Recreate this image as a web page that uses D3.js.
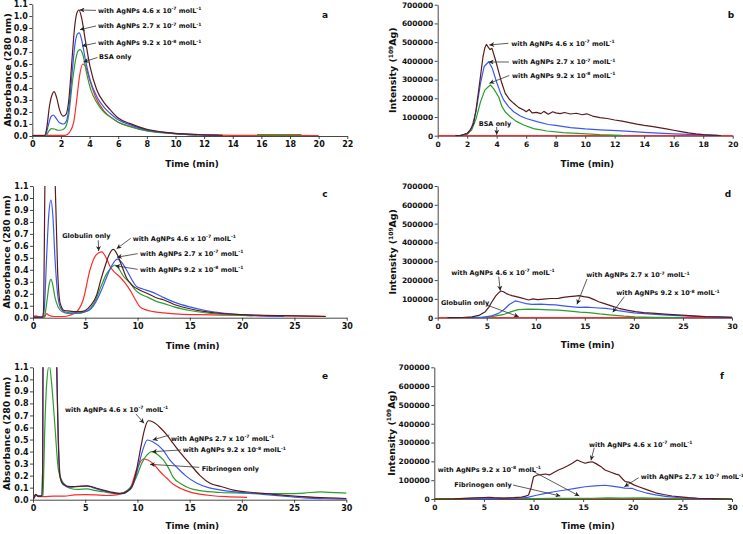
<!DOCTYPE html>
<html><head><meta charset="utf-8">
<script src="https://cdn.jsdelivr.net/npm/d3@7"></script>
<style>
body{margin:0;background:#fff}
svg{display:block}
text{font-family:"DejaVu Sans","Liberation Sans",sans-serif;font-weight:bold;fill:#111}
</style>
</head><body>
<svg id="chart" width="743" height="534"></svg>
<script>
// ---------- tick arrays ----------
const absTicks = [0,0.1,0.2,0.3,0.4,0.5,0.6,0.7,0.8,0.9,1.0,1.1];
const intTicks = [0,100000,200000,300000,400000,500000,600000,700000];
const time22Ticks = [0,2,4,6,8,10,12,14,16,18,20,22];
const time20Ticks = [0,2,4,6,8,10,12,14,16,18,20];
const time30Ticks = [0,5,10,15,20,25,30];

// ---------- series: [time (min), value] ----------
// a: BSA absorbance
const aBrown = [[0,0.004],[0.85,0.004],[1.0,0.06],[1.2,0.25],[1.4,0.35],[1.52,0.37],[1.7,0.32],[1.9,0.22],[2.16,0.165],[2.35,0.18],[2.55,0.3],[2.75,0.6],[2.95,0.9],[3.1,1.02],[3.26,1.05],[3.45,0.98],[3.7,0.8],[4.03,0.58],[4.5,0.385],[5.0,0.28],[5.43,0.22],[6.0,0.15],[6.8,0.105],[8,0.055],[9,0.035],[10,0.022],[11,0.015],[12,0.01],[13.3,0.006]];
const aBlue = [[0,0.003],[0.9,0.003],[1.1,0.08],[1.3,0.16],[1.47,0.175],[1.65,0.15],[1.9,0.11],[2.16,0.1],[2.4,0.13],[2.6,0.28],[2.8,0.55],[3.0,0.78],[3.15,0.85],[3.28,0.86],[3.45,0.8],[3.7,0.64],[4.03,0.47],[4.5,0.33],[5.0,0.24],[5.43,0.19],[6,0.135],[6.8,0.095],[8,0.05],[9,0.032],[10,0.02],[11,0.012],[12,0.008],[13,0.006]];
const aGreen = [[0,0.002],[0.95,0.002],[1.15,0.04],[1.35,0.062],[1.55,0.058],[1.8,0.048],[2.05,0.05],[2.3,0.07],[2.55,0.18],[2.8,0.45],[3.0,0.62],[3.2,0.71],[3.35,0.72],[3.55,0.67],[3.8,0.52],[4.1,0.38],[4.5,0.28],[5.0,0.2],[5.43,0.16],[6,0.115],[6.8,0.08],[8,0.042],[9,0.028],[10,0.018],[11,0.01],[11.5,0.008],[11.6,null],[15.7,0.012],[18.8,0.012]];
const aRed = [[0,0.005],[2.3,0.005],[2.6,0.03],[2.9,0.12],[3.1,0.3],[3.3,0.5],[3.52,0.6],[3.75,0.57],[4.0,0.47],[4.4,0.33],[5.0,0.21],[5.5,0.155],[6,0.115],[6.8,0.08],[8,0.045],[9,0.03],[10,0.02],[12,0.01],[14,0.006],[17,0.005],[20,0.004]];
// b: BSA 109Ag intensity
const bBrown = [[1.2,0],[1.6,2000],[2.0,13000],[2.2,30000],[2.44,66000],[2.6,140000],[2.78,244000],[3.07,422000],[3.2,470000],[3.3,488000],[3.45,470000],[3.55,460000],[3.68,467000],[3.9,410000],[4.13,342000],[4.35,280000],[4.58,226000],[4.85,195000],[5.15,173000],[5.5,150000],[5.83,137000],[6.0,128000],[6.2,140000],[6.4,122000],[6.7,125000],[7.0,118000],[7.2,130000],[7.5,115000],[7.8,128000],[8.0,122000],[8.3,118000],[8.6,124000],[9.0,116000],[9.4,120000],[9.8,112000],[10.1,117000],[10.5,105000],[11,97000],[11.5,92000],[12,84000],[12.5,78000],[13,70000],[13.5,62000],[14,55000],[14.5,50000],[15,43000],[15.5,36000],[16,29000],[16.5,22000],[17,15000],[17.5,10000],[18,6000],[18.5,3500],[19.2,1000]];
const bBlue = [[1.5,0],[2.0,10000],[2.3,40000],[2.6,130000],[2.9,280000],[3.15,370000],[3.46,395000],[3.7,360000],[4.02,280000],[4.25,230000],[4.47,191000],[4.8,155000],[5.15,128000],[5.6,105000],[6.0,92000],[6.73,75000],[7.5,60000],[8,55000],[9,43000],[10,36000],[11,31000],[12.15,27000],[13,23000],[14,18000],[15,14000],[16,10000],[17,7000],[18,4500],[19,2000]];
const bGreen = [[1.5,0],[2.0,8000],[2.3,30000],[2.6,90000],[2.9,180000],[3.2,245000],[3.57,271000],[3.8,250000],[4.13,208000],[4.36,155000],[4.6,125000],[4.92,101000],[5.3,78000],[5.83,57000],[6.5,38000],[7.41,25000],[8.5,16000],[10.1,10000],[11,6000],[12.5,2000]];
const bRed = [[0,500],[20,500]];
// c: Globulin absorbance
const cBrown = [[0,0.005],[0.9,0.005],[1.0,0.05],[1.15,1.2],[1.3,2.0],[1.6,2.4],[1.9,2.0],[2.1,1.2],[2.35,0.4],[2.6,0.12],[3.0,0.06],[3.5,0.055],[4,0.05],[4.5,0.05],[5,0.06],[5.5,0.1],[6.09,0.19],[6.5,0.32],[6.89,0.43],[7.3,0.53],[7.68,0.57],[8.1,0.52],[8.5,0.43],[8.96,0.33],[9.5,0.27],[10.23,0.23],[11,0.2],[12,0.16],[12.46,0.15],[13.5,0.11],[15,0.075],[16.5,0.05],[18,0.035],[20,0.025],[22,0.02],[25,0.015],[28,0.01]];
const cBlue = [[0,0.003],[0.95,0.003],[1.1,0.1],[1.3,0.5],[1.5,0.85],[1.72,0.983],[1.9,0.85],[2.1,0.5],[2.35,0.2],[2.6,0.09],[3,0.05],[4,0.04],[5,0.05],[5.5,0.07],[6,0.13],[6.5,0.22],[7,0.33],[7.5,0.43],[8.06,0.49],[8.5,0.46],[9,0.39],[9.5,0.31],[9.9,0.26],[10.5,0.24],[11.2,0.22],[12,0.19],[12.46,0.17],[13.5,0.13],[15,0.09],[16.5,0.06],[18,0.04],[20,0.025],[22,0.015],[24,0.01]];
const cGreen = [[0,0.002],[1.0,0.002],[1.15,0.03],[1.35,0.15],[1.55,0.28],[1.72,0.32],[1.9,0.27],[2.1,0.17],[2.4,0.09],[2.8,0.05],[3.5,0.035],[4.2,0.035],[5,0.05],[5.5,0.08],[6,0.15],[6.5,0.26],[7,0.36],[7.5,0.42],[7.84,0.44],[8.2,0.41],[8.7,0.34],[9.28,0.29],[9.8,0.23],[10.23,0.2],[11,0.17],[12,0.13],[12.46,0.12],[13.5,0.09],[15,0.06],[17,0.035],[20,0.02],[21,0.015]];
const cRed = [[0,0.01],[0.3,0.015],[0.6,0.005],[1.1,0.005],[1.3,0.035],[1.5,0.02],[2,0.01],[3,0.01],[3.5,0.02],[4.18,0.05],[4.8,0.15],[5.45,0.4],[6,0.52],[6.57,0.55],[7.0,0.5],[7.36,0.43],[7.8,0.38],[8.32,0.34],[8.8,0.29],[9.28,0.23],[9.8,0.15],[10.23,0.09],[10.8,0.065],[11.5,0.05],[12.5,0.04],[14,0.03],[16,0.025],[18,0.022],[20.3,0.02],[22,0.015],[25,0.015],[28,0.012]];
// d: Globulin 109Ag intensity
const dBrown = [[1,0],[2.5,1000],[3.5,4000],[4.2,12000],[4.85,32000],[5.2,55000],[5.53,85000],[5.9,115000],[6.2,132000],[6.45,142000],[6.7,138000],[7.0,128000],[7.3,122000],[7.57,117000],[8,112000],[8.5,105000],[9.0,98000],[9.27,94000],[9.7,100000],[10.2,96000],[10.8,99000],[11.5,102000],[12.3,103000],[12.8,108000],[13.4,112000],[14,115000],[14.4,117000],[14.9,112000],[15.4,108000],[16,95000],[16.4,85000],[17,75000],[17.7,63000],[18.45,50000],[19.3,40000],[20.15,32000],[21,27000],[22.2,23000],[23.5,18000],[24.9,14000],[26,10000],[27.3,6000],[28.5,4000],[30,2000]];
const dBlue = [[3,0],[4.5,2000],[5.5,10000],[6.2,23000],[6.8,45000],[7.3,70000],[7.9,89000],[8.5,82000],[9.0,75000],[9.6,71000],[10.5,72000],[11.3,70000],[12,68000],[13,62000],[13.8,58000],[14.4,55000],[15.2,56000],[16,53000],[17.1,50000],[17.8,45000],[18.4,38000],[19.1,32000],[20,26000],[21.5,20000],[23,15000],[25,10000],[27,6000],[29,3000],[30,2000]];
const dGreen = [[3,0],[5,3000],[5.8,8000],[6.8,18000],[7.5,32000],[8.2,43000],[9.3,46000],[10.3,44000],[11.3,42000],[12.3,40000],[13.5,35000],[14.5,30000],[15.4,27000],[16.5,20000],[17.8,14000],[19,8000],[20.1,4000],[22,2000],[25,1000]];
const dRed = [[0,500],[30,500]];
// e: Fibrinogen absorbance
const eBrown = [[0,0.0],[0.1,0.02],[0.25,0.045],[0.45,0.03],[0.85,0.03],[0.93,0.3],[0.97,1.5],[1.2,2.5],[1.7,2.6],[2.15,2.0],[2.27,1.1],[2.4,0.55],[2.59,0.19],[2.9,0.13],[3.54,0.108],[4.2,0.11],[5.14,0.115],[5.6,0.11],[6.1,0.095],[6.7,0.08],[7.37,0.066],[8,0.055],[8.6,0.052],[9.0,0.07],[9.45,0.108],[9.8,0.2],[10.1,0.33],[10.4,0.47],[10.7,0.59],[11.04,0.656],[11.5,0.645],[12.16,0.6],[12.8,0.54],[13.4,0.47],[14.2,0.38],[15,0.3],[16,0.2],[16.95,0.136],[18,0.11],[19.2,0.08],[21,0.06],[23,0.045],[25,0.03],[27,0.02],[30,0.01]];
const eBlue = [[0,0.0],[0.1,0.02],[0.25,0.04],[0.45,0.03],[0.85,0.03],[0.93,0.3],[0.97,1.5],[1.2,2.5],[1.7,2.6],[2.15,2.0],[2.3,1.0],[2.45,0.45],[2.62,0.18],[2.9,0.125],[3.54,0.105],[4.2,0.108],[5.14,0.112],[5.6,0.105],[6.1,0.09],[6.7,0.075],[7.37,0.062],[8,0.052],[8.6,0.05],[9.0,0.065],[9.45,0.1],[9.8,0.18],[10.1,0.28],[10.5,0.41],[10.95,0.496],[11.5,0.48],[12.48,0.41],[13.1,0.33],[13.76,0.27],[14.6,0.2],[15.7,0.136],[16.8,0.1],[18,0.08],[20,0.06],[22,0.045],[24,0.03],[26,0.015],[28,0.008],[30,0.005]];
const eGreen = [[0,0.0],[0.25,0.04],[0.5,0.03],[0.95,0.03],[0.99,0.1],[1.1,0.5],[1.3,0.95],[1.56,1.12],[1.8,0.95],[2.1,0.61],[2.43,0.25],[2.9,0.14],[3.54,0.095],[4.3,0.085],[5.14,0.09],[6,0.075],[6.73,0.066],[7.5,0.055],[8.3,0.05],[9.0,0.075],[9.6,0.136],[10.0,0.21],[10.4,0.3],[10.9,0.37],[11.36,0.4],[12,0.37],[12.48,0.33],[13.0,0.26],[13.4,0.19],[14.2,0.13],[15,0.095],[16,0.075],[18,0.06],[20,0.055],[22,0.05],[24,0.05],[26,0.055],[27.5,0.065],[29,0.058],[30,0.055]];
const eRed = [[0,0.0],[0.19,0.025],[0.35,0.04],[0.5,0.025],[1,0.025],[2,0.03],[3,0.03],[4,0.04],[5,0.042],[6,0.04],[7,0.035],[8,0.04],[8.7,0.06],[9.3,0.095],[9.93,0.25],[10.56,0.338],[11,0.33],[11.5,0.3],[12.2,0.23],[12.8,0.18],[13.4,0.13],[14.1,0.095],[15,0.065],[15.7,0.05],[17,0.035],[18.5,0.025],[20.5,0.02]];
// f: Fibrinogen 109Ag intensity
const fBrown = [[0,0],[2,1000],[3,3000],[4,6000],[5,8000],[5.5,9000],[6,7000],[7,5000],[8,7000],[8.8,10000],[9.2,15000],[9.5,21000],[9.75,60000],[10.0,118000],[10.4,128000],[10.8,130000],[11.2,133000],[11.6,128000],[12.0,140000],[12.5,154000],[13,165000],[13.5,178000],[13.9,190000],[14.4,207000],[14.8,198000],[15.2,190000],[15.5,195000],[15.9,198000],[16.3,188000],[16.8,172000],[17.2,154000],[17.8,142000],[18.3,132000],[18.6,128000],[19.0,105000],[19.25,92000],[19.6,90000],[20.1,75000],[20.6,65000],[21.4,50000],[22.3,33000],[23.1,24000],[23.95,16000],[24.8,11000],[25.6,7000],[26.5,4000],[27.9,2000],[30,0]];
const fBlue = [[3,0],[6,2000],[8,4000],[9,6000],[9.5,10000],[10.3,20000],[11.2,30000],[12.2,40000],[13.2,48000],[14.2,56000],[15.2,65000],[16.2,70000],[17.2,73000],[17.9,68000],[18.6,63000],[19.2,58000],[19.9,57000],[20.5,45000],[21.3,33000],[22.3,22000],[23.3,14000],[24.5,8000],[25.6,5000],[27,2000],[28,1000]];
const fGreen = [[0,1000],[5,3000],[8,3000],[10,2500],[12,4000],[14,3000],[16,4000],[17.5,6000],[19,5000],[21,6000],[23,4000],[25,2000],[27,1500],[30,1000]];
const fRed = [[0,2000],[10,1500],[20,1500],[28,1000]];

// ---------- annotation labels ----------
const lab46 = ["with AgNPs 4.6 x 10","-7"," molL","-1"];
const lab27 = ["with AgNPs 2.7 x 10","-7"," molL","-1"];
const lab92 = ["with AgNPs 9.2 x 10","-8"," molL","-1"];

// ---------- styles / layout ----------
const COL = {brown:"#5a1c1c", blue:"#3a58f2", green:"#2b9f2b", red:"#ff2a2a"};
const panels = [
  {id:"a", box:[32.3,347.3,4,136], xMax:22, xt:time22Ticks, yMax:1.1, yt:absTicks, fmt:d3.format(".1f"), ylab:"abs", ylx:7.5, xTitleX:192, xTitleY:166.5, letter:[325,18], fs:8,
   series:[[aRed,"red"],[aGreen,"green"],[aBlue,"blue"],[aBrown,"brown"]],
   ann:[[lab46,[4.59,1.047],[4.45,1.047],[3.30,1.05]],[lab27,[4.59,0.917],[4.45,0.917],[3.33,0.886]],[lab92,[4.59,0.775],[4.45,0.775],[3.47,0.75]],[["BSA only"],[4.66,0.658],[4.55,0.654],[3.58,0.617]]]},
  {id:"b", box:[437.7,732.7,4.7,135.7], xMax:20, xt:time20Ticks, yMax:700000, yt:intTicks, fmt:d3.format("d"), ylab:"int", ylx:392.7, xTitleX:587.3, xTitleY:166.5, letter:[731,18], fs:7.5,
   series:[[bRed,"red"],[bGreen,"green"],[bBlue,"blue"],[bBrown,"brown"]],
   ann:[[lab46,[4.99,493800],[4.79,493800],[3.5,484700]],[lab27,[5.04,393900],[4.83,393900],[3.46,393900]],[lab92,[5.04,322800],[4.85,321700],[3.5,280000]],[["BSA only"],[2.78,66300],[4.0,46500],[4.0,4800]]]},
  {id:"c", box:[33,346.7,186,317.7], xMax:30, xt:time30Ticks, yMax:1.1, yt:absTicks, fmt:d3.format(".1f"), ylab:"abs", ylx:7, xTitleX:192.7, xTitleY:348.5, letter:[325,197], fs:8,
   series:[[cRed,"red"],[cGreen,"green"],[cBlue,"blue"],[cBrown,"brown"]],
   ann:[[["Globulin only"],[2.80,0.6825],[6.24,0.647],[6.28,0.557]],[lab46,[9.53,0.663],[9.34,0.663],[8.0,0.576]],[lab27,[10.23,0.535],[10.01,0.535],[8.03,0.505]],[lab92,[10.23,0.404],[10.01,0.404],[7.87,0.434]]]},
  {id:"d", box:[437.7,732,186,317.7], xMax:30, xt:time30Ticks, yMax:700000, yt:intTicks, fmt:d3.format("d"), ylab:"int", ylx:392.7, xTitleX:587.7, xTitleY:348, letter:[728,197], fs:7.5,
   series:[[dRed,"red"],[dGreen,"green"],[dBlue,"blue"],[dBrown,"brown"]],
   ann:[[lab46,[1.39,241300],[6.22,217900],[6.38,143500]],[lab27,[15.15,228500],[15.22,205700],[14.2,71200]],[lab92,[18.21,131300],[19.02,111600],[17.84,28700]],[["Globulin only"],[0.34,78100],[4.99,67500],[8.26,5300]]]},
  {id:"e", box:[33,346.3,367.3,499.7], xMax:30, xt:time30Ticks, yMax:1.1, yt:absTicks, fmt:d3.format(".1f"), ylab:"abs", ylx:6.5, xTitleX:192.3, xTitleY:529, letter:[325,379], fs:8,
   series:[[eRed,"red"],[eGreen,"green"],[eBlue,"blue"],[eBrown,"brown"]],
   ann:[[lab46,[3.06,0.751],[9.86,0.712],[10.63,0.635]],[lab27,[13.21,0.51],[13.05,0.537],[11.46,0.496]],[lab92,[14.33,0.413],[14.17,0.413],[11.4,0.399]],[["Fibrinogen only"],[16.15,0.261],[15.92,0.269],[11.2,0.294]]]},
  {id:"f", box:[434.3,732,367.3,499], xMax:30, xt:time30Ticks, yMax:700000, yt:intTicks, fmt:d3.format("d"), ylab:"int", ylx:391.3, xTitleX:588, xTitleY:529, letter:[722,379], fs:7.5,
   series:[[fRed,"red"],[fGreen,"green"],[fBlue,"blue"],[fBrown,"brown"]],
   ann:[[lab46,[15.59,290700],[16.12,272700],[15.79,205700]],[lab27,[20.8,118500],[20.6,113200],[19.15,65400]],[lab92,[0.34,157900],[10.02,145100],[14.61,15900]],[["Fibrinogen only"],[2.02,74400],[7.93,74400],[12.7,15900]]]}
];

const svg = d3.select("#chart");
const defs = svg.append("defs");
defs.append("marker").attr("id","arr").attr("viewBox","0 0 10 10")
  .attr("refX",10).attr("refY",5).attr("markerWidth",5.5).attr("markerHeight",5)
  .attr("markerUnits","userSpaceOnUse").attr("orient","auto")
  .append("path").attr("d","M0,0 L10,5 L0,10 L3,5 z").attr("fill","#222");

panels.forEach(p => {
  const [x0,x1,y0,y1] = p.box;
  const x = d3.scaleLinear().domain([0,p.xMax]).range([x0,x1]);
  const y = d3.scaleLinear().domain([0,p.yMax]).range([y1,y0]);
  const g = svg.append("g");

  defs.append("clipPath").attr("id","clip-"+p.id)
    .append("rect").attr("x",x0).attr("y",y0).attr("width",x1-x0+2).attr("height",y1-y0+1);

  // axes
  const xa = g.append("g").attr("transform",`translate(0,${y1})`)
    .call(d3.axisBottom(x).tickValues(p.xt).tickSize(3).tickSizeOuter(0).tickPadding(2.5));
  const ya = g.append("g").attr("transform",`translate(${x0},0)`)
    .call(d3.axisLeft(y).tickValues(p.yt).tickFormat(p.fmt).tickSize(3).tickSizeOuter(0).tickPadding(1.5));
  [xa,ya].forEach(a => {
    a.attr("font-family",null).attr("font-size",null);
    a.selectAll("text").attr("font-size",p.fs).attr("fill","#111");
    a.selectAll("line,path").attr("stroke","#333").attr("stroke-width",0.9);
  });

  // titles
  g.append("text").attr("x",p.xTitleX).attr("y",p.xTitleY).attr("text-anchor","middle")
    .attr("font-size",8.8).text("Time (min)");
  const yl = g.append("text").attr("text-anchor","middle").attr("font-size",9.4)
    .attr("transform",`translate(${p.ylx},${(y0+y1)/2}) rotate(-90)`).attr("dy","0.35em");
  if (p.ylab === "abs") yl.text("Absorbance (280 nm)");
  else {
    yl.append("tspan").text("Intensity (");
    yl.append("tspan").attr("font-size",6).attr("dy",-3.2).text("109");
    yl.append("tspan").attr("dy",3.2).text("Ag)");
  }
  g.append("text").attr("x",p.letter[0]).attr("y",p.letter[1]).attr("text-anchor","middle")
    .attr("font-size",9).text(p.id);

  // lines
  const smooth = p.ylab === "abs";
  const line = d3.line().defined(d => d[1] != null)
    .x(d => x(d[0])).y(d => y(d[1]))
    .curve(smooth ? d3.curveMonotoneX : d3.curveLinear);
  const lg = g.append("g").attr("clip-path",`url(#clip-${p.id})`);
  p.series.forEach(([data,c]) => {
    lg.append("path").attr("d",line(data)).attr("fill","none")
      .attr("stroke",COL[c]).attr("stroke-width",1.2).attr("stroke-linejoin","round");
  });

  // annotations
  p.ann.forEach(([parts,tpos,tail,tip]) => {
    g.append("line").attr("x1",x(tail[0])).attr("y1",y(tail[1]))
      .attr("x2",x(tip[0])).attr("y2",y(tip[1]))
      .attr("stroke","#333").attr("stroke-width",0.8).attr("marker-end","url(#arr)");
    const t = g.append("text").attr("x",x(tpos[0])).attr("y",y(tpos[1])+2.3).attr("font-size",6.5);
    parts.forEach((s,i) => {
      const sup = i % 2 === 1;
      t.append("tspan").attr("font-size",sup?4.5:6.5).attr("dy", sup ? -2.5 : (i>0 ? 2.5 : 0)).text(s);
    });
  });
});
</script>
</body></html>
